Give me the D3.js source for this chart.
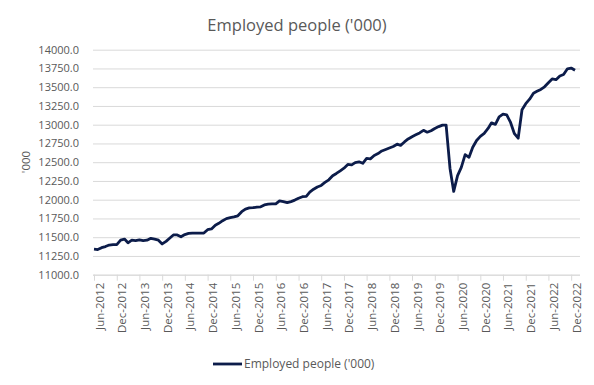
<!DOCTYPE html>
<html>
<head>
<meta charset="utf-8">
<script src="https://cdn.jsdelivr.net/npm/d3@7"></script>
<style>
  body { margin: 0; background: #fff; }
  text { font-family: "Open Sans", sans-serif; fill: #595959; }
</style>
</head>
<body>
<div id="chart"></div>
<script>
// monthly values, Jun-2012 .. Jan-2023
const firstMonth = "Jun-2012";
const employed = [
  11340, 11335, 11360, 11375, 11395, 11400, 11400, 11460, 11475, 11425, 11460, 11455,
  11465, 11455, 11460, 11485, 11475, 11460, 11410, 11445, 11490, 11530, 11530, 11505,
  11535, 11550, 11555, 11555, 11555, 11555, 11600, 11610, 11660, 11685, 11720, 11748,
  11760, 11770, 11785, 11840, 11875, 11890, 11893, 11900, 11905, 11930, 11940, 11945,
  11945, 11985, 11975, 11960, 11975, 11995, 12020, 12040, 12045, 12100, 12140, 12170,
  12190, 12230, 12265, 12320, 12350, 12385, 12420, 12470, 12465, 12495, 12505, 12485,
  12550, 12545, 12590, 12615, 12650, 12670, 12690, 12710, 12740, 12725, 12770, 12810,
  12840, 12865, 12890, 12925, 12900, 12920, 12950, 12975, 12995, 12995, 12420, 12110,
  12320, 12430, 12600, 12565, 12700, 12790, 12845, 12885, 12950, 13025, 13005, 13105,
  13140, 13130, 13030, 12880, 12820, 13200, 13280, 13340, 13420, 13445, 13470, 13505,
  13560, 13610, 13600, 13650, 13670, 13745, 13755, 13725
];
const tickLabels = [
  "Jun-2012", "Dec-2012", "Jun-2013", "Dec-2013", "Jun-2014", "Dec-2014",
  "Jun-2015", "Dec-2015", "Jun-2016", "Dec-2016", "Jun-2017", "Dec-2017",
  "Jun-2018", "Dec-2018", "Jun-2019", "Dec-2019", "Jun-2020", "Dec-2020",
  "Jun-2021", "Dec-2021", "Jun-2022", "Dec-2022"
];
const yTicks = [11000, 11250, 11500, 11750, 12000, 12250, 12500, 12750, 13000, 13250, 13500, 13750, 14000];
const seriesName = "Employed people ('000)";

const width = 594;
const height = 385;
const parseMonth = d3.timeParse("%b-%Y");
const start = parseMonth(firstMonth);

const data = employed.map((v, i) => ({ date: d3.timeMonth.offset(start, i), value: v }));

const x = d3
  .scaleTime()
  .domain([start, new Date(2023, 1, 10)])
  .range([94, 580]);

const y = d3.scaleLinear().domain([11000, 14000]).range([274.7, 49.7]);

const svg = d3
  .select("#chart")
  .append("svg")
  .attr("width", width)
  .attr("height", height);

svg.append("rect").attr("width", width).attr("height", height).attr("fill", "#fff");

// title
svg
  .append("text")
  .attr("x", 297)
  .attr("y", 31)
  .attr("text-anchor", "middle")
  .style("font-size", "16.5px")
  .text(seriesName);

// grid + y labels
const yAxis = svg
  .append("g")
  .attr("transform", "translate(93,0)")
  .call(
    d3
      .axisLeft(y)
      .tickValues(yTicks)
      .tickSize(-487)
      .tickPadding(14)
      .tickFormat(d3.format(".1f"))
  );
yAxis.select(".domain").remove();
yAxis.selectAll("line").attr("stroke", "#d9d9d9").attr("stroke-width", 1);
yAxis.selectAll("text").style("font-size", "11px").attr("fill", "#666");

// y title
svg
  .append("text")
  .attr("transform", "translate(30,162) rotate(-90)")
  .attr("text-anchor", "middle")
  .style("font-size", "11.5px")
  .text("'000");

// x axis
const xAxis = svg
  .append("g")
  .attr("transform", `translate(0,${y(11000)})`)
  .call(
    d3
      .axisBottom(x)
      .tickValues(tickLabels.map(parseMonth))
      .tickSize(6)
      .tickFormat(d3.timeFormat("%b-%Y"))
  );
xAxis.select(".domain").attr("stroke", "#d9d9d9").attr("d", "M93,0.5H580");
xAxis.selectAll("line").attr("stroke", "#d9d9d9");
xAxis
  .selectAll("text")
  .style("font-size", "11.5px")
  .attr("fill", "#666")
  .attr("text-anchor", "end")
  .attr("transform", "rotate(-90)")
  .attr("x", -8)
  .attr("y", 9)
  .attr("dy", 0);

// line
const line = d3
  .line()
  .x((d) => x(d.date))
  .y((d) => y(d.value));

svg
  .append("path")
  .datum(data)
  .attr("fill", "none")
  .attr("stroke", "#0c1c4a")
  .attr("stroke-width", 2.8)
  .attr("stroke-linejoin", "round")
  .attr("d", line);

// legend
const legend = svg.append("g").attr("transform", "translate(213,364)");
legend
  .append("line")
  .attr("x1", 0)
  .attr("x2", 29)
  .attr("stroke", "#0c1c4a")
  .attr("stroke-width", 2.8);
legend
  .append("text")
  .attr("x", 31)
  .attr("y", 4)
  .style("font-size", "12px")
  .text(seriesName);
</script>
</body>
</html>
